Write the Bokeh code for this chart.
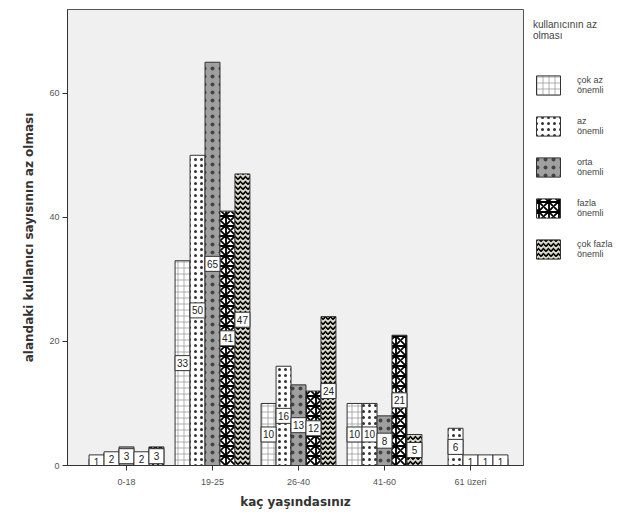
from bokeh.plotting import figure
from bokeh.models import ColumnDataSource, Range1d, FixedTicker, Legend, LegendItem
from bokeh.core.properties import value
from bokeh.embed import file_html
from bokeh.resources import INLINE
from bokeh.transform import dodge

ages = ["0-18", "19-25", "26-40", "41-60", "61 üzeri"]
series_labels = ["çok az\nönemli", "az\nönemli", "orta\nönemli", "fazla\nönemli", "çok fazla\nönemli"]
cok_az = [1, 33, 10, 10, 0]
az = [2, 50, 16, 10, 6]
orta = [3, 65, 13, 8, 1]
fazla = [2, 41, 12, 21, 1]
cok_fazla = [3, 47, 24, 5, 1]
series = [cok_az, az, orta, fazla, cok_fazla]
y_ticks = [0, 20, 40, 60]

styles = [
    dict(fill_color="white", hatch_pattern="cross", hatch_color="#9a9a9a", hatch_scale=6, hatch_weight=0.8),
    dict(fill_color="white", hatch_pattern="dot", hatch_color="#333333", hatch_scale=6, hatch_weight=2),
    dict(fill_color="#a0a0a0", hatch_pattern="dot", hatch_color="#444444", hatch_scale=8, hatch_weight=3),
    dict(fill_color="white", hatch_pattern="criss_cross", hatch_color="black", hatch_scale=10, hatch_weight=1.8),
    dict(fill_color="#d8d8c8", hatch_pattern="horizontal_wave", hatch_color="black", hatch_scale=5, hatch_weight=1.6),
]

p = figure(frame_width=456, frame_height=456,
           x_range=Range1d(-0.686, 4.616), y_range=Range1d(0, 73.5),
           output_backend="svg", toolbar_location=None,
           min_border_left=67, min_border_right=0, min_border_top=9, min_border_bottom=47,
           background_fill_color="#f0f0f0", border_fill_color="white",
           outline_line_color="#555555")
p.grid.visible = False

bw = 0.174
items = []
label_parts = []
for i, vals in enumerate(series):
    off = (i - 2) * bw
    xs = [k for k, v in enumerate(vals) if v > 0]
    vs = [v for v in vals if v > 0]
    src = ColumnDataSource(dict(x=xs, value=vs, mid=[v / 2 for v in vs], label=[str(v) for v in vs]))
    r = p.vbar(x=dodge("x", off), top="value", bottom=0, width=bw, source=src,
               line_color="#333333", line_width=1, **styles[i])
    items.append(LegendItem(label=series_labels[i], renderers=[r]))
    label_parts.append((src, off))

for src, off in label_parts:
    p.rect(x=dodge("x", off), y="mid", width=15, height=15, width_units="screen", height_units="screen",
           source=src, fill_color="white", line_color="#333333", line_width=1)
    p.text(x=dodge("x", off), y="mid", text="label", source=src, text_align="center",
           text_baseline="middle", text_font=value("Liberation Sans"), text_font_size="10px",
           text_color="#222222")

legend = Legend(items=items, title="kullanıcının az\nolması", location="top_left",
                orientation="vertical", margin=10, padding=0, spacing=17,
                glyph_width=30, glyph_height=24, label_standoff=14,
                label_text_font="Liberation Sans", label_text_font_size="9px", label_text_color="#444444",
                title_text_font="Liberation Sans", title_text_font_size="10px", title_text_color="#444444",
                title_text_font_style="normal", title_standoff=32,
                border_line_color=None, background_fill_color="white")
p.add_layout(legend, "right")

p.xaxis.ticker = FixedTicker(ticks=list(range(len(ages))))
p.xaxis.major_label_overrides = {i: a for i, a in enumerate(ages)}
p.yaxis.ticker = FixedTicker(ticks=y_ticks)
for ax in (p.xaxis, p.yaxis):
    ax.major_tick_out = 5
    ax.major_tick_in = 0
    ax.minor_tick_out = 0
    ax.minor_tick_in = 0
    ax.axis_line_color = "#333333"
    ax.major_tick_line_color = "#333333"
    ax.major_label_text_font = "Liberation Sans"
    ax.major_label_text_font_size = "9px"
    ax.major_label_text_color = "#555555"
    ax.axis_label_text_font = "DejaVu Sans"
    ax.axis_label_text_font_style = "bold"
    ax.axis_label_text_font_size = "12px"
    ax.axis_label_text_color = "#333333"
p.xaxis.axis_label = "kaç yaşındasınız"
p.yaxis.axis_label = "alandaki kullanıcı sayısının az olması"
p.xaxis.major_label_standoff = 6
p.xaxis.axis_label_standoff = 5
p.yaxis.major_label_standoff = 3
p.yaxis.axis_label_standoff = 10

open("out.html", "w").write(file_html(p, INLINE))
